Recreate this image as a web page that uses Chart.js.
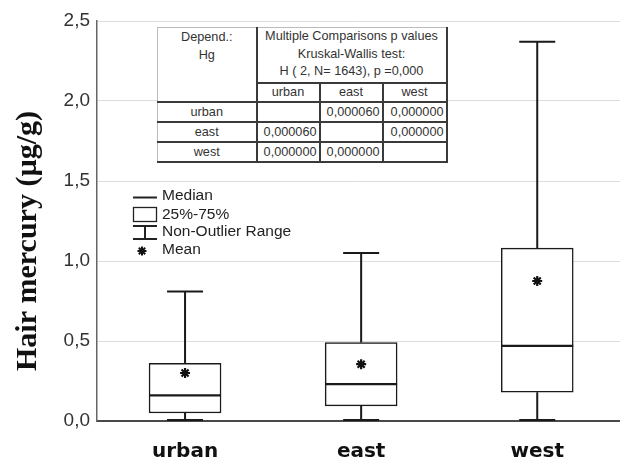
<!DOCTYPE html>
<html>
<head>
<meta charset="utf-8">
<script src="https://cdn.jsdelivr.net/npm/chart.js@4/dist/chart.umd.min.js"></script>
<style>
  html, body { margin: 0; padding: 0; background: #fff; overflow: hidden; }
  #wrap { position: relative; width: 620px; height: 461px; }
  canvas { display: block; }
  #tbl {
    position: absolute; left: 157px; top: 27px;
    border-collapse: collapse; background: #fff;
    font-family: "Liberation Sans", Arial, sans-serif; font-size: 12.7px; color: #333;
    table-layout: fixed;
  }
  #tbl td { padding: 0 2px; border: 2px solid #3a3a3a; line-height: 14px; white-space: nowrap; overflow: hidden; }
  #tbl .c { text-align: center; }
  #tbl .r { text-align: right; }
  #tbl tr.sub td { height: 17px; }
  #tbl tr.row td { height: 18px; }
  #tbl td.lt { border-left: 1px solid #bbb; }
  #tbl tr.top td { border-top: 1px solid #bbb; vertical-align: top; }
  #tbl td.hdr { line-height: 17.5px; }
</style>
</head>
<body>
<div id="wrap">
  <canvas id="c" width="620" height="461"></canvas>
  <table id="tbl"></table>
</div>
<script>
// ---- data ----
const categories = ['urban', 'east', 'west'];
const whiskerMin = [0.0, 0.0, 0.0];
const q1 = [0.05, 0.095, 0.18];
const median = [0.16, 0.23, 0.47];
const q3 = [0.36, 0.49, 1.08];
const whiskerMax = [0.81, 1.05, 2.37];
const mean = [0.30, 0.355, 0.875];
const yTicks = [0, 0.5, 1.0, 1.5, 2.0, 2.5];

const tableHeaderLeft = ['Depend.:', 'Hg'];
const tableHeaderRight = ['Multiple Comparisons p values', 'Kruskal-Wallis test:', 'H ( 2, N= 1643), p =0,000'];
const pValues = [
  ['', '0,000060', '0,000000'],
  ['0,000060', '', '0,000000'],
  ['0,000000', '0,000000', '']
];
const legendItems = ['Median', '25%-75%', 'Non-Outlier Range', 'Mean'];
const yTitle = 'Hair mercury (µg/g)';

// ---- table ----
(function buildTable() {
  const t = document.getElementById('tbl');
  const colW = [99, 63, 63, 64];
  let html = '<colgroup>' + colW.map(w => '<col style="width:' + w + 'px">').join('') + '</colgroup>';
  html += '<tr class="top"><td class="c lt hdr" rowspan="2" style="height:72px;padding-top:1px">' + tableHeaderLeft.join('<br>') +
          '</td><td class="c hdr" colspan="3" style="height:53px;padding-top:0px">' + tableHeaderRight.join('<br>') + '</td></tr>';
  html += '<tr class="sub">' + categories.map(c => '<td class="c">' + c + '</td>').join('') + '</tr>';
  categories.forEach((c, i) => {
    html += '<tr class="row"><td class="c lt">' + c + '</td>' +
      pValues[i].map(v => '<td class="r">' + v + '</td>').join('') + '</tr>';
  });
  t.innerHTML = html;
})();

// ---- box/whisker plugin ----
const boxPlugin = {
  id: 'boxExtras',
  afterDatasetsDraw(chart) {
    const ctx = chart.ctx;
    const xs = chart.scales.x, ys = chart.scales.y;
    const half = 36, cap = 18;
    ctx.save();
    ctx.strokeStyle = '#1a1a1a';
    categories.forEach((c, i) => {
      const x = xs.getPixelForValue(i);
      ctx.lineWidth = 2;
      ctx.beginPath();
      ctx.moveTo(x, ys.getPixelForValue(q3[i]));
      ctx.lineTo(x, ys.getPixelForValue(whiskerMax[i]));
      ctx.moveTo(x, ys.getPixelForValue(q1[i]));
      ctx.lineTo(x, ys.getPixelForValue(whiskerMin[i]));
      ctx.stroke();
      ctx.beginPath();
      const yt = ys.getPixelForValue(whiskerMax[i]);
      const yb = ys.getPixelForValue(whiskerMin[i]) - 1;
      ctx.moveTo(x - cap, yt); ctx.lineTo(x + cap, yt);
      ctx.moveTo(x - cap, yb); ctx.lineTo(x + cap, yb);
      ctx.stroke();
      ctx.lineWidth = 2.2;
      ctx.beginPath();
      const ym = ys.getPixelForValue(median[i]);
      ctx.moveTo(x - half, ym); ctx.lineTo(x + half, ym);
      ctx.stroke();
    });
    ctx.restore();
  },
  afterDraw(chart) {
    const ctx = chart.ctx;
    ctx.save();
    ctx.fillStyle = '#111';
    ctx.font = 'bold 30px "Liberation Serif", "Times New Roman", serif';
    ctx.translate(36, 241);
    ctx.rotate(-Math.PI / 2);
    ctx.textAlign = 'center';
    ctx.textBaseline = 'alphabetic';
    ctx.fillText(yTitle, 0, 0);
    ctx.restore();

    ctx.save();
    ctx.font = '15.5px "Liberation Sans", Arial, sans-serif';
    ctx.fillStyle = '#222';
    ctx.textBaseline = 'middle';
    ctx.textAlign = 'left';
    const lx = 133, lw = 24, tx = 162;
    const rows = [196, 215, 232, 250];
    ctx.strokeStyle = '#222';
    ctx.lineWidth = 2;
    ctx.beginPath(); ctx.moveTo(lx, 197.5); ctx.lineTo(lx + lw, 197.5); ctx.stroke();
    ctx.lineWidth = 1.3;
    ctx.strokeRect(lx + 0.5, 207.5, lw - 1, 14);
    ctx.lineWidth = 2;
    ctx.beginPath();
    ctx.moveTo(lx, 226); ctx.lineTo(lx + lw, 226);
    ctx.moveTo(lx + lw / 2, 226); ctx.lineTo(lx + lw / 2, 239);
    ctx.moveTo(lx, 239); ctx.lineTo(lx + lw, 239);
    ctx.stroke();
    legendItems.forEach((t, i) => ctx.fillText(t, tx, rows[i]));
    ctx.strokeStyle = '#111';
    ctx.fillStyle = '#111';
    ctx.lineWidth = 2;
    Chart.helpers.drawPoint(ctx, { pointStyle: 'star', radius: 4.5, rotation: 0, borderWidth: 2 }, 142, 251);
    ctx.restore();
  }
};

const ctx = document.getElementById('c').getContext('2d');
new Chart(ctx, {
  type: 'bar',
  data: {
    datasets: [
      {
        label: 'box',
        data: categories.map((c, i) => ({ x: i, y: [q1[i], q3[i]] })),
        backgroundColor: '#ffffff',
        borderColor: '#1a1a1a',
        borderWidth: 1.5,
        borderSkipped: false,
        barThickness: 72,
        order: 2
      },
      {
        type: 'scatter',
        label: 'mean',
        data: categories.map((c, i) => ({ x: i, y: mean[i] })),
        pointStyle: 'star',
        radius: 5,
        borderWidth: 2.2,
        borderColor: '#111',
        backgroundColor: '#111',
        order: 1
      }
    ]
  },
  options: {
    responsive: false,
    animation: false,
    layout: { autoPadding: false, padding: { top: 21, right: 0, left: 0, bottom: 0 } },
    plugins: { legend: { display: false }, tooltip: { enabled: false } },
    scales: {
      x: {
        type: 'linear',
        offset: false,
        min: -0.5,
        max: 2.47,
        afterBuildTicks(s) { s.ticks = categories.map((c, i) => ({ value: i })); },
        afterFit(s) { s.height = 40; s.paddingLeft = 0; s.paddingRight = 0; },
        grid: { display: false, drawTicks: false, offset: false },
        border: { display: true, color: '#4a4a4a', width: 2 },
        ticks: {
          padding: 19,
          autoSkip: false,
          maxRotation: 0,
          color: '#111',
          font: { family: '"DejaVu Sans", Verdana, sans-serif', weight: 'bold', size: 20 },
          callback: (v) => categories[v] !== undefined ? categories[v] : ''
        }
      },
      y: {
        min: 0,
        max: 2.5,
        afterBuildTicks(s) { s.ticks = yTicks.map(v => ({ value: v })); },
        afterFit(s) { s.width = 97; },
        grid: { color: '#dcdcdc', lineWidth: 1, drawTicks: false },
        border: { display: true, color: '#666', width: 1.5 },
        ticks: {
          padding: 7,
          color: '#333',
          font: { family: '"Liberation Sans", Arial, sans-serif', size: 19 },
          callback: (v) => Number(v).toFixed(1).replace('.', ',')
        }
      }
    }
  },
  plugins: [boxPlugin]
});
</script>
</body>
</html>
